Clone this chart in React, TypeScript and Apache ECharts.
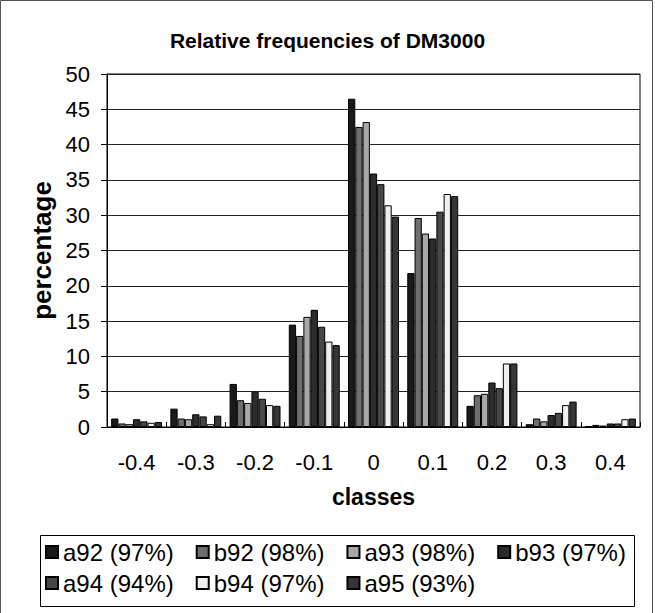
import React, { useEffect, useRef } from "react";
import * as echarts from "echarts";

const classes = ["-0.4", "-0.3", "-0.2", "-0.1", "0", "0.1", "0.2", "0.3", "0.4"];

const a92 = [1.2, 2.6, 6.1, 14.5, 46.5, 21.8, 3.0, 0.4, 0.1];
const b92 = [0.5, 1.2, 3.8, 12.9, 42.5, 29.6, 4.5, 1.2, 0.3];
const a93 = [0.4, 1.1, 3.4, 15.6, 43.2, 27.4, 4.7, 0.8, 0.2];
const b93 = [1.1, 1.8, 5.0, 16.6, 35.9, 26.7, 6.3, 1.7, 0.5];
const a94 = [0.8, 1.5, 4.0, 14.2, 34.4, 30.5, 5.5, 2.0, 0.5];
const b94 = [0.6, 0.4, 3.1, 12.1, 31.4, 33.0, 9.0, 3.1, 1.1];
const a95 = [0.7, 1.6, 3.0, 11.6, 29.8, 32.7, 9.0, 3.6, 1.2];

const seriesNames = ["a92 (97%)", "b92 (98%)", "a93 (98%)", "b93 (97%)", "a94 (94%)", "b94 (97%)", "a95 (93%)"];
const seriesValues = [a92, b92, a93, b93, a94, b94, a95];
const seriesColors = ["#1a1a1a", "#6e6e6e", "#a8a8a8", "#2c2c2c", "#474747", "#efefef", "#363636"];

const FONT = "Liberation Sans, Arial, sans-serif";

export default function App() {
  const ref = useRef<HTMLDivElement>(null);

  useEffect(() => {
    if (!ref.current) return;
    const chart = echarts.init(ref.current, null, { renderer: "svg" });

    const legendBase = {
      left: 45,
      itemWidth: 12,
      itemHeight: 12,
      itemGap: 22,
      icon: "rect",
      padding: 0,
      textStyle: { fontFamily: FONT, fontSize: 24, color: "#000" },
    };

    chart.setOption({
      animation: false,
      backgroundColor: "#fff",
      title: {
        text: "Relative frequencies of DM3000",
        left: "center",
        top: 25,
        textStyle: { fontFamily: FONT, fontSize: 21, fontWeight: "bold", color: "#000" },
      },
      grid: {
        left: 107,
        right: 15,
        top: 74,
        bottom: 186,
        show: true,
        borderColor: "#000",
        borderWidth: 1,
        backgroundColor: "transparent",
      },
      legend: [
        { ...legendBase, data: seriesNames.slice(0, 4), top: 540 },
        { ...legendBase, data: seriesNames.slice(4), top: 571 },
      ],
      xAxis: {
        type: "category",
        data: classes,
        name: "classes",
        nameLocation: "middle",
        nameGap: 58,
        nameTextStyle: { fontFamily: FONT, fontSize: 23, fontWeight: "bold", color: "#000" },
        axisLine: { lineStyle: { color: "#000", width: 1 } },
        axisTick: { show: true, inside: true, length: 5, lineStyle: { color: "#000" } },
        axisLabel: { fontFamily: FONT, fontSize: 22, color: "#000", margin: 24 },
      },
      yAxis: {
        type: "value",
        min: 0,
        max: 50,
        interval: 5,
        name: "percentage",
        nameLocation: "middle",
        nameRotate: 90,
        nameGap: 52,
        nameTextStyle: { fontFamily: FONT, fontSize: 26, fontWeight: "bold", color: "#000" },
        axisLine: { show: true, lineStyle: { color: "#000", width: 1 } },
        axisTick: { show: true, length: 6, lineStyle: { color: "#000" } },
        axisLabel: { fontFamily: FONT, fontSize: 22, color: "#000", margin: 17 },
        splitLine: { show: true, lineStyle: { color: "#222", width: 1 } },
      },
      series: seriesNames.map((name, i) => ({
        name,
        type: "bar",
        data: seriesValues[i],
        barGap: "0%",
        barCategoryGap: "14%",
        itemStyle: { color: seriesColors[i], borderColor: "#000", borderWidth: 1 },
      })),
      graphic: [
        {
          type: "rect",
          shape: { x: 40.5, y: 535.5, width: 594, height: 71 },
          style: { fill: "none", stroke: "#000", lineWidth: 1 },
          silent: true,
        },
        {
          type: "rect",
          shape: { x: 0.5, y: 0.5, width: 652, height: 640 },
          style: { fill: "none", stroke: "#555", lineWidth: 1 },
          silent: true,
        },
      ],
    });

    return () => chart.dispose();
  }, []);

  return (
    <div
      ref={ref}
      style={{ position: "fixed", left: 0, top: 0, width: 655, height: 613 }}
    />
  );
}
